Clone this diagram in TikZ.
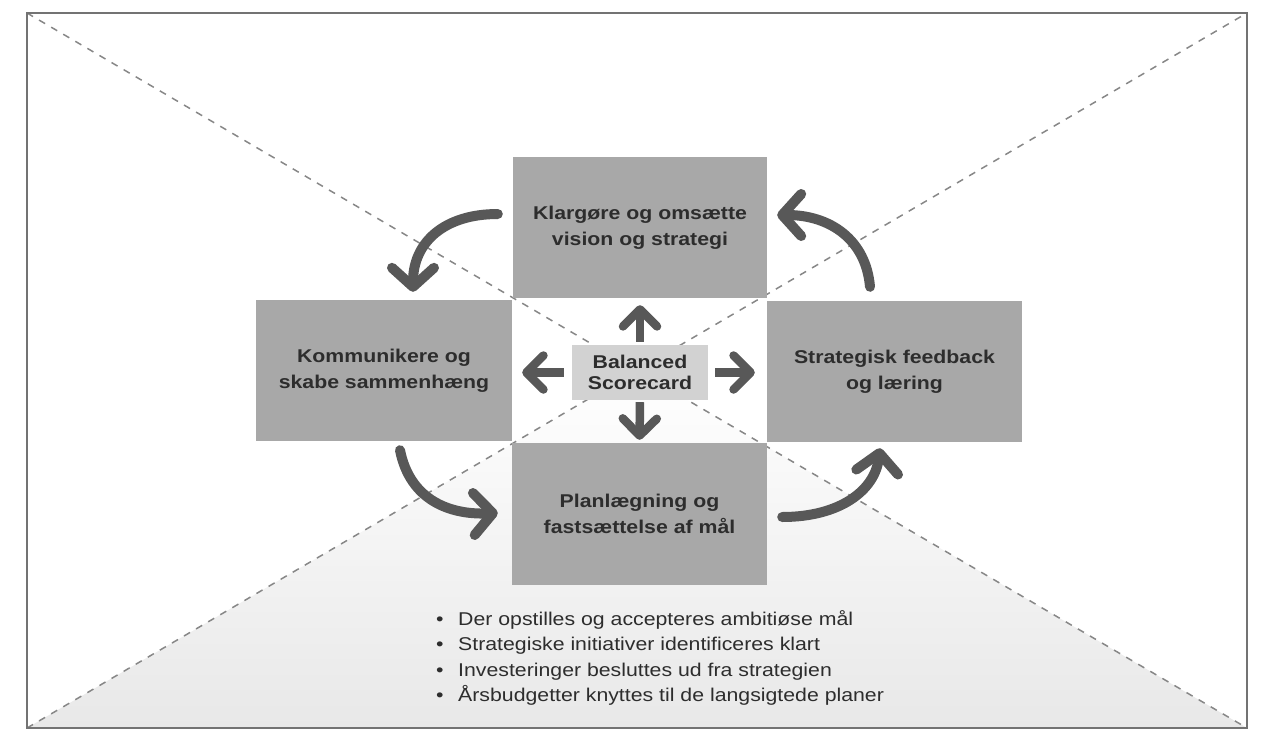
\documentclass[tikz,border=0pt]{standalone}
\usepackage{fontspec}
\setmainfont{Liberation Sans}[FakeStretch=1.15]
\usetikzlibrary{arrows.meta,calc}
\definecolor{boxgray}{RGB}{168,168,168}
\definecolor{centergray}{RGB}{210,210,210}
\definecolor{arrowgray}{RGB}{88,88,88}
\definecolor{textgray}{RGB}{45,45,45}
\definecolor{dashgray}{RGB}{135,135,135}
\definecolor{framegray}{RGB}{115,115,115}
\tikzset{
  box/.style={fill=boxgray, draw=none, inner sep=0pt, align=center, text=textgray,
    font=\fontsize{18.5}{26}\selectfont\bfseries},
  centerbox/.style={box, fill=centergray, font=\fontsize{18.5}{21}\selectfont\bfseries},
  bigarrow/.style={draw=arrowgray, line width=10pt, line cap=round,
    -{Straight Barb[length=19pt,width=42pt,round]}},
  smallarrow/.style={draw=arrowgray, line width=8.5pt,
    -{Straight Barb[length=17pt,width=34pt,round]}},
  diag/.style={draw=dashgray, line width=1.5pt, dash pattern=on 7pt off 7pt},
  frameline/.style={draw=framegray, line width=1.5pt},
  listtext/.style={text=textgray, inner sep=0pt, font=\fontsize{18.5}{25.5}\selectfont}
}
\begin{document}
\begin{tikzpicture}[x=1pt,y=-1pt]
\useasboundingbox (0,0) rectangle (1271,731);
% corners of the frame
\coordinate (tl) at (27,13);
\coordinate (tr) at (1247,13);
\coordinate (bl) at (27,728);
\coordinate (br) at (1247,728);
\coordinate (mid) at (637,370.5);
% faint shading of the lower triangle
\shade[top color=white, bottom color=black!9] (bl) -- (mid) -- (br) -- cycle;
% dashed diagonals
\draw[diag] (tl) -- (br);
\draw[diag] (bl) -- (tr);
% frame
\draw[frameline] (tl) rectangle (br);
% boxes
\node[box, minimum width=254pt, minimum height=141pt] (top) at (640,227.5)
  {Klargøre og omsætte\\vision og strategi};
\node[box, minimum width=256pt, minimum height=141pt] (left) at (384,370.5)
  {Kommunikere og\\skabe sammenhæng};
\node[box, minimum width=255pt, minimum height=141pt] (right) at (894.5,371.5)
  {Strategisk feedback\\og læring};
\node[box, minimum width=255pt, minimum height=142pt] (bottom) at (639.5,514)
  {Planlægning og\\fastsættelse af mål};
\node[centerbox, minimum width=136pt, minimum height=55pt] (bsc) at (640,372.5)
  {Balanced\\Scorecard};
% straight arrows from the centre
\draw[smallarrow, shorten <=3pt, shorten >=7pt] (bsc.north) -- (top.south);
\draw[smallarrow, shorten <=2pt, shorten >=3pt] (bsc.south) -- (bottom.north);
\draw[smallarrow, shorten <=8pt, shorten >=10pt] (bsc.west) -- (left.east |- bsc.west);
\draw[smallarrow, shorten <=7pt, shorten >=12pt] (bsc.east) -- (right.west |- bsc.east);
% curved arrows round the cycle
\draw[bigarrow] ($(top.west)+(-15,-13.5)$) .. controls +(-53,0) and +(0,-50) .. ($(left.north)+(29,-8)$);
\draw[bigarrow] ($(left.south)+(16,9)$) .. controls +(10,50) and +(-48,2) .. ($(bottom.west)+(-14,-1)$);
\draw[bigarrow] ($(bottom.east)+(15,3)$) .. controls +(58,0) and +(-5,42) .. ($(right.south)+(-14.5,6)$);
\draw[bigarrow] ($(right.north)+(-24.5,-14)$) .. controls +(-4,-47) and +(53,0) .. ($(top.east)+(10,-12.5)$);
% bullet list
\node[listtext, anchor=base west] (list) at (436,625) {%
  \begin{tabular}[t]{@{}l@{}}
  \makebox[22pt][l]{\textbullet}Der opstilles og accepteres ambitiøse mål\\
  \makebox[22pt][l]{\textbullet}Strategiske initiativer identificeres klart\\
  \makebox[22pt][l]{\textbullet}Investeringer besluttes ud fra strategien\\
  \makebox[22pt][l]{\textbullet}Årsbudgetter knyttes til de langsigtede planer
  \end{tabular}};
\end{tikzpicture}
\end{document}
